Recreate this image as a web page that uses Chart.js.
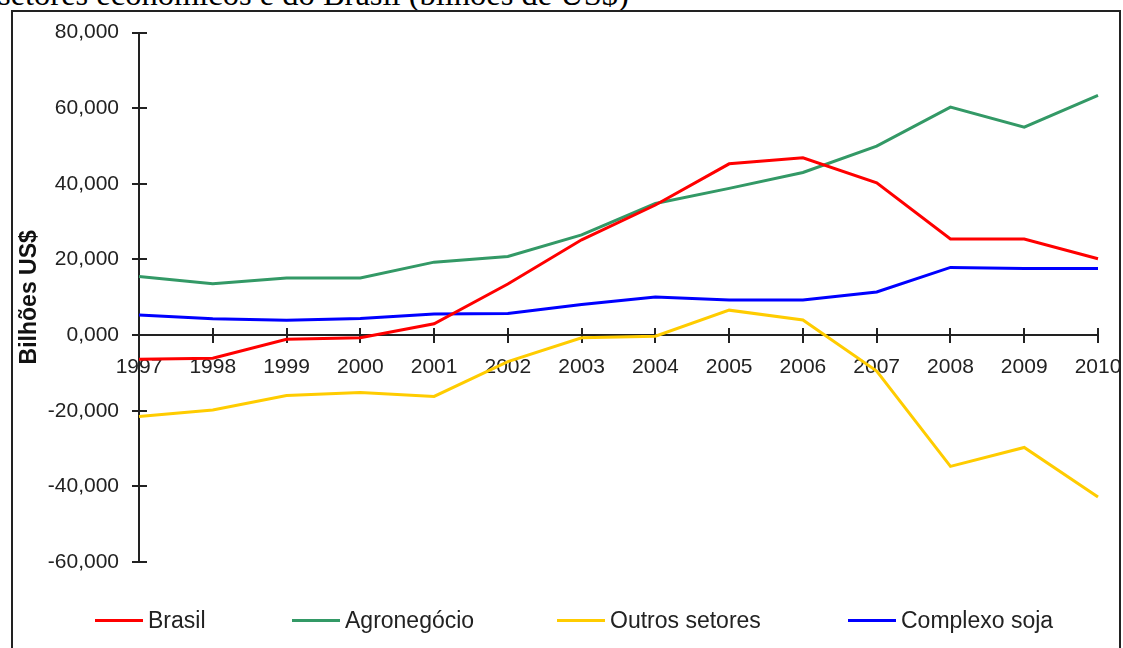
<!DOCTYPE html>
<html>
<head>
<meta charset="utf-8">
<script src="https://cdn.jsdelivr.net/npm/chart.js"></script>
<style>
  body { margin: 0; background: #fff; width: 1123px; height: 648px; overflow: hidden; position: relative; }
  #caption { position: absolute; left: -2px; top: -24px; font-family: "Liberation Serif", "Times New Roman", serif; font-size: 32.5px; line-height: 36px; color: #000; white-space: nowrap; }
  #frame { position: absolute; left: 11px; top: 10px; width: 1106px; height: 700px; border: 2px solid #222; }
  #wrap { position: absolute; left: 0; top: 0; width: 1123px; height: 648px; }
  .leg { position: absolute; top: 606px; height: 28px; display: flex; align-items: center; font-family: "Liberation Sans", Arial, sans-serif; font-size: 23px; color: #222; white-space: nowrap; }
  .leg span.ln { display: inline-block; width: 48px; height: 3px; margin-right: 5px; }
</style>
</head>
<body>
<div id="caption">setores econômicos e do Brasil (bilhões de US$)</div>
<div id="frame"></div>
<div id="wrap"><canvas id="myChart"></canvas></div>
<div id="legend"></div>
<script>
// valores em bilhões de US$
const years = ['1997', '1998', '1999', '2000', '2001', '2002', '2003', '2004', '2005', '2006', '2007', '2008', '2009', '2010'];
const brasil = [-6.4, -6.1, -1.1, -0.7, 3.0, 13.5, 25.2, 34.4, 45.3, 46.9, 40.3, 25.4, 25.4, 20.2];
const agronegocio = [15.5, 13.6, 15.1, 15.1, 19.3, 20.8, 26.5, 34.8, 38.8, 43.0, 50.0, 60.3, 55.0, 63.4];
const outrosSetores = [-21.5, -19.8, -16.0, -15.2, -16.2, -7.0, -0.7, -0.3, 6.6, 4.0, -9.5, -34.7, -29.7, -42.8];
const complexoSoja = [5.3, 4.3, 3.9, 4.4, 5.6, 5.7, 8.1, 10.1, 9.3, 9.3, 11.4, 17.9, 17.6, 17.6];
const yMin = -60, yMax = 80, yStep = 20;

// legend left positions
const legendLeft = [95, 292, 557, 848];

// little crossing tick marks on both axes
const crossTicks = {
  id: 'crossTicks',
  beforeDatasetsDraw(chart) {
    const ctx = chart.ctx;
    const x = chart.scales.x, y = chart.scales.y;
    const y0 = y.getPixelForValue(0);
    const left = chart.chartArea.left;
    ctx.save();
    ctx.strokeStyle = '#222';
    ctx.lineWidth = 2;
    ctx.beginPath();
    x.ticks.forEach((t, i) => {
      const px = Math.round(x.getPixelForTick(i));
      ctx.moveTo(px, y0 - 7);
      ctx.lineTo(px, y0 + 8);
    });
    y.ticks.forEach((t, i) => {
      const py = Math.round(y.getPixelForTick(i));
      ctx.moveTo(left - 7, py);
      ctx.lineTo(left + 8, py);
    });
    ctx.stroke();
    ctx.restore();
  }
};

const ctx = document.getElementById('myChart');

const chart = new Chart(ctx, {
  type: 'line',
  data: {
    labels: years,
    datasets: [
      { label: 'Brasil', data: brasil, borderColor: '#ff0000', backgroundColor: '#ff0000' },
      { label: 'Agronegócio', data: agronegocio, borderColor: '#339966', backgroundColor: '#339966' },
      { label: 'Outros setores', data: outrosSetores, borderColor: '#ffcc00', backgroundColor: '#ffcc00' },
      { label: 'Complexo soja', data: complexoSoja, borderColor: '#0000ff', backgroundColor: '#0000ff' }
    ]
  },
  options: {
    responsive: true,
    maintainAspectRatio: false,
    animation: false,
    layout: { padding: { top: 30, bottom: 86, left: 0, right: 25 } },
    elements: {
      line: { borderWidth: 3, tension: 0 },
      point: { radius: 0, hoverRadius: 0 }
    },
    plugins: {
      legend: { display: false },
      tooltip: { enabled: false }
    },
    scales: {
      x: {
        position: { y: 0 },
        offset: false,
        afterFit: s => { s.paddingLeft = 0; s.paddingRight = 0; },
        grid: { display: true, drawOnChartArea: false, drawTicks: false },
        border: { display: true, color: '#222', width: 2 },
        ticks: {
          autoSkip: false,
          maxRotation: 0,
          padding: 19,
          color: '#222',
          font: { family: '"Liberation Sans", Arial, sans-serif', size: 21 }
        }
      },
      y: {
        min: yMin,
        max: yMax,
        afterFit: s => { s.width = 139; },
        grid: { display: true, drawOnChartArea: false, drawTicks: false },
        border: { display: true, color: '#222', width: 2 },
        ticks: {
          stepSize: yStep,
          padding: 20,
          color: '#222',
          font: { family: '"Liberation Sans", Arial, sans-serif', size: 21 },
          callback: v => v.toFixed(3).replace('.', ',')
        },
        title: {
          display: true,
          text: 'Bilhões US$',
          color: '#111',
          padding: { top: 16, bottom: 0 },
          font: { family: '"Liberation Sans", Arial, sans-serif', size: 23, weight: 'bold' }
        }
      }
    }
  },
  plugins: [crossTicks]
});

// legenda em html, montada a partir dos datasets
const legend = document.getElementById('legend');
chart.data.datasets.forEach((ds, i) => {
  const item = document.createElement('div');
  item.className = 'leg';
  item.style.left = legendLeft[i] + 'px';
  item.innerHTML = '<span class="ln" style="background:' + ds.borderColor + '"></span>' + ds.label;
  legend.appendChild(item);
});
</script>
</body>
</html>
